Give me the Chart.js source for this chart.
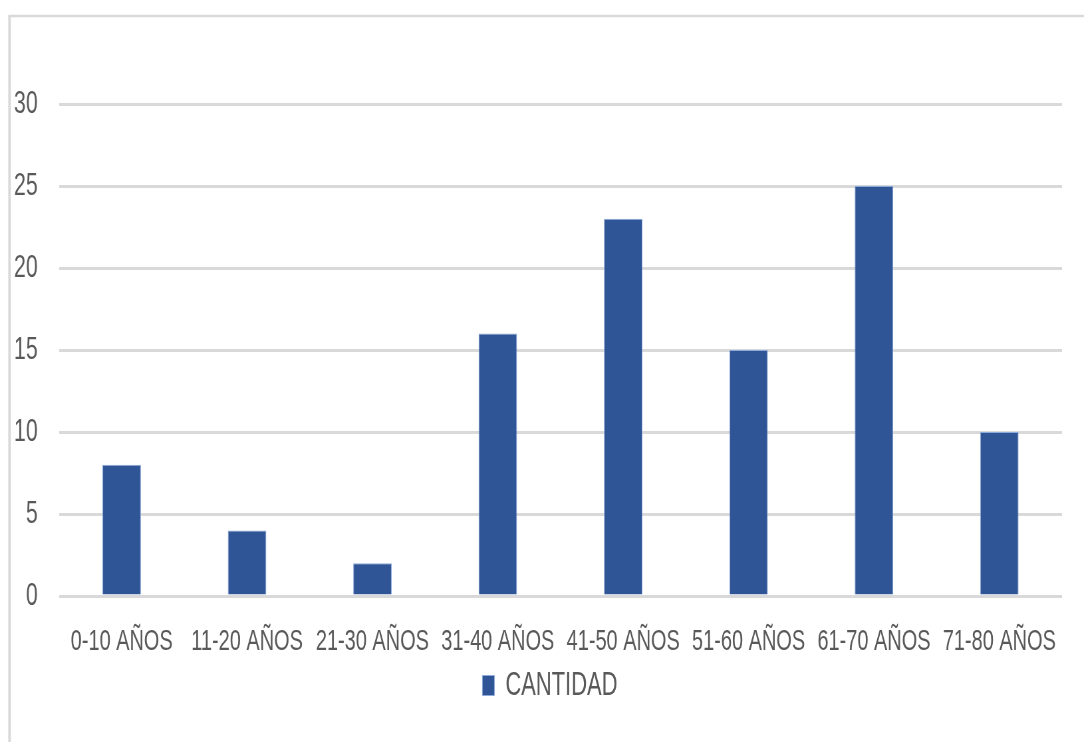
<!DOCTYPE html>
<html lang="es">
<head>
<meta charset="utf-8">
<title>CANTIDAD por rango de edad</title>
<script src="https://cdn.jsdelivr.net/npm/chart.js@4"></script>
<style>
  html, body { margin: 0; padding: 0; background: #ffffff; overflow: hidden; }
  #wrap { width: 1630px; height: 742px; transform: scaleX(0.665); transform-origin: 0 0; }
  canvas { display: block; }
</style>
</head>
<body>
<div id="wrap"><canvas id="chart" width="1630" height="742"></canvas></div>
<script>
// Rangos de edad y número de personas en cada uno
const categories = ['0-10 AÑOS', '11-20 AÑOS', '21-30 AÑOS', '31-40 AÑOS', '41-50 AÑOS', '51-60 AÑOS', '61-70 AÑOS', '71-80 AÑOS'];
const cantidad = [8, 4, 2, 16, 23, 15, 25, 10];
const seriesName = 'CANTIDAD';
const yMin = 0;
const yMax = 30;
const yStep = 5;

const TEXT = '#595959';
const GRID = '#d9d9d9';
const BAR = '#2f5597';
const FONT = "'Liberation Sans', Arial, sans-serif";

// Thin grey frame on the left and top edges of the chart
const framePlugin = {
  id: 'frame',
  beforeDraw(chart) {
    const ctx = chart.ctx;
    ctx.save();
    ctx.strokeStyle = GRID;
    ctx.lineWidth = 3.8;
    ctx.beginPath();
    ctx.moveTo(14.3, chart.height + 5);
    ctx.lineTo(14.3, 16);
    ctx.stroke();
    ctx.lineWidth = 2.6;
    ctx.beginPath();
    ctx.moveTo(12.4, 16);
    ctx.lineTo(chart.width + 5, 16);
    ctx.stroke();
    ctx.restore();
  }
};

// Nudge the legend so it sits a little right of the canvas centre
const legendOffset = {
  id: 'legendOffset',
  afterLayout(chart) {
    const lg = chart.legend;
    if (lg) { lg.left += 28.5; lg.right += 28.5; }
  }
};

new Chart(document.getElementById('chart'), {
  type: 'bar',
  data: {
    labels: categories,
    datasets: [{
      label: seriesName,
      data: cantidad,
      backgroundColor: BAR,
      borderColor: '#8eaadb',
      borderWidth: 1,
      barPercentage: 0.307,
      categoryPercentage: 1
    }]
  },
  options: {
    responsive: false,
    animation: false,
    devicePixelRatio: 1,
    layout: { padding: { top: 104, left: 0, right: 33, bottom: 30 } },
    plugins: {
      tooltip: { enabled: false },
      legend: {
        position: 'bottom',
        labels: {
          color: TEXT,
          font: { family: FONT, size: 33 },
          boxWidth: 18,
          boxHeight: 20,
          padding: 9
        }
      }
    },
    scales: {
      x: {
        grid: { display: false, drawTicks: false },
        border: { display: false },
        ticks: {
          color: TEXT,
          font: { family: FONT, size: 30 },
          padding: 28,
          autoSkip: false,
          maxRotation: 0,
          minRotation: 0
        },
        afterFit(scale) { scale.height = 64; }
      },
      y: {
        min: yMin,
        max: yMax,
        grid: { color: GRID, lineWidth: 3, drawTicks: false },
        border: { display: false },
        ticks: {
          stepSize: yStep,
          color: TEXT,
          font: { family: FONT, size: 32 },
          padding: 32
        },
        afterFit(scale) { scale.width = 88.7; }
      }
    }
  },
  plugins: [framePlugin, legendOffset]
});
</script>
</body>
</html>
